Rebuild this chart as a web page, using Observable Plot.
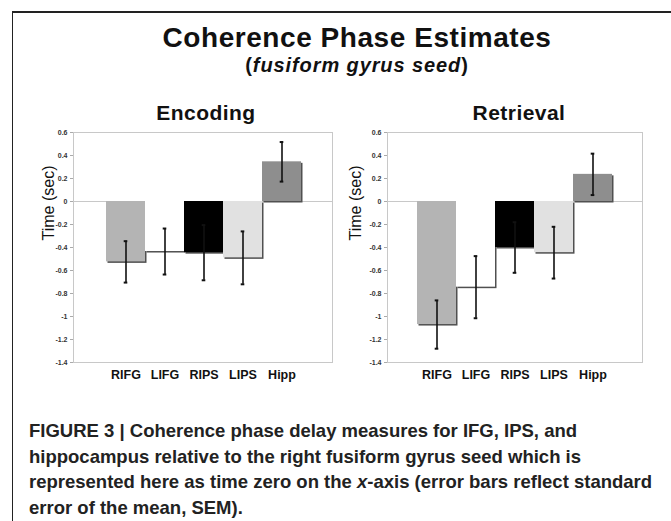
<!DOCTYPE html>
<html><head><meta charset="utf-8">
<script src="https://cdn.jsdelivr.net/npm/d3@7"></script>
<script src="https://cdn.jsdelivr.net/npm/@observablehq/plot@0.6"></script>
<style>
body{margin:0;background:#fff;font-family:"Liberation Sans",Arial,sans-serif;color:#111;}
#page{position:relative;width:671px;height:521px;overflow:hidden;background:#fff;}
.abs{position:absolute;white-space:nowrap;font-weight:bold;line-height:1;}
#box{position:absolute;left:12px;top:11px;width:700px;height:600px;border-top:2px solid #222;border-left:1.5px solid #222;}
.ctr{transform:translateX(-50%);}
svg{overflow:visible;}
</style></head><body>
<div id="page">
  <div id="box"></div>
  <div class="abs ctr" style="left:357px;top:24px;font-size:28px;letter-spacing:0.55px;">Coherence Phase Estimates</div>
  <div class="abs ctr" style="left:357px;top:55px;font-size:20px;letter-spacing:0.9px;">(<i>fusiform gyrus seed</i>)</div>
  <div class="abs ctr" style="left:206px;top:102px;font-size:21px;letter-spacing:0.45px;">Encoding</div>
  <div class="abs ctr" style="left:519px;top:102px;font-size:21px;letter-spacing:0.45px;">Retrieval</div>
  <div id="left" style="position:absolute;left:0;top:120px;"></div>
  <div id="right" style="position:absolute;left:340px;top:120px;"></div>
  <div class="abs" style="left:29px;top:418px;font-size:18.5px;line-height:25.5px;color:#222;">FIGURE 3 | Coherence phase delay measures for IFG, IPS, and<br>hippocampus relative to the right fusiform gyrus seed which is<br>represented here as time zero on the <i>x</i>-axis (error bars reflect standard<br>error of the mean, SEM).</div>
</div>
<script>
const regions = ["RIFG", "LIFG", "RIPS", "LIPS", "Hipp"];
const barColors = ["#b4b4b4", "#ffffff", "#000000", "#e1e1e1", "#8e8e8e"];
const encodingMeans = [-0.525, -0.435, -0.445, -0.49, 0.345];
const encodingSEM = [0.18, 0.20, 0.24, 0.23, 0.172];
const retrievalMeans = [-1.07, -0.745, -0.40, -0.445, 0.236];
const retrievalSEM = [0.21, 0.27, 0.22, 0.225, 0.18];
const yTicks = [0.6, 0.4, 0.2, 0, -0.2, -0.4, -0.6, -0.8, -1, -1.2, -1.4];

function panel(means, sems, o) {
  const data = regions.map((r, i) => ({region: r, value: means[i], lo: means[i] - sems[i], hi: means[i] + sems[i], color: barColors[i]}));
  const plotW = o.width - o.marginLeft - o.marginRight;
  const bw = (plotW - o.insetLeft - o.insetRight) / regions.length;
  const capInset = bw / 2 - 2;
  return Plot.plot({
    width: o.width, height: 272,
    marginLeft: o.marginLeft, marginRight: o.marginRight, marginTop: 12, marginBottom: 30,
    style: "font-family:'Liberation Sans',Arial,sans-serif;background:transparent;overflow:visible;",
    x: {domain: regions, padding: 0, insetLeft: o.insetLeft, insetRight: o.insetRight, label: null},
    y: {domain: [-1.4, 0.6], label: null},
    color: {type: "identity"},
    marks: [
      Plot.frame({stroke: "#c8c8c8"}),
      Plot.ruleY([0], {stroke: "#c8c8c8"}),
      Plot.barY(data, {x: "region", y: "value", fill: "#505050", dx: 1.5, dy: 1.5}),
      Plot.barY(data, {x: "region", y: "value", fill: "color"}),
      Plot.ruleX(data, {x: "region", y1: "lo", y2: "hi", stroke: "#111", strokeWidth: 1.6}),
      Plot.tickY(data, {x: "region", y: "lo", stroke: "#111", strokeWidth: 2, insetLeft: capInset, insetRight: capInset}),
      Plot.tickY(data, {x: "region", y: "hi", stroke: "#111", strokeWidth: 2, insetLeft: capInset, insetRight: capInset}),
      Plot.axisY({ticks: yTicks, tickSize: 3, tickPadding: 3, fontSize: 7, fontWeight: "bold", fill: "#333", stroke: "#aaa", label: null, tickFormat: d => String(d)}),
      Plot.axisX({tickSize: 0, tickPadding: 8, fontSize: 12.5, fontWeight: "bold", fill: "#111", label: null}),
      Plot.text(["Time (sec)"], {text: d => d, frameAnchor: "left", rotate: -90, dx: o.labelDx, dy: -7, fontSize: 16, fill: "#111"})
    ]
  });
}

document.getElementById("left").append(panel(encodingMeans, encodingSEM, {width: 340, marginLeft: 73, marginRight: 8, insetLeft: 32, insetRight: 30, labelDx: -25}));
document.getElementById("right").append(panel(retrievalMeans, retrievalSEM, {width: 331, marginLeft: 47, marginRight: 29, insetLeft: 29, insetRight: 29, labelDx: -32}));
</script>
</body></html>
